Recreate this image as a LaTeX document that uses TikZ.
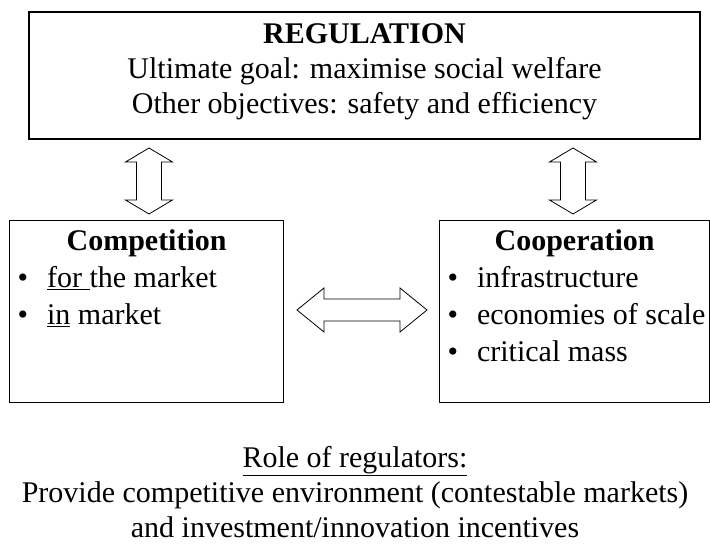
\documentclass[tikz,border=0pt]{standalone}
\usepackage{fontspec}
\setmainfont{Liberation Serif}
\usetikzlibrary{positioning,calc}

\tikzset{
  box/.style={draw, line width=1.2pt, inner sep=0pt},
  blockarrow/.style={draw, line width=0.8pt, fill=white, line join=miter},
  bodyfont/.style={font=\fontsize{30}{35}\selectfont},
}
\newcommand{\bulletline}[1]{\hspace*{8pt}\textbullet\hspace{19pt}#1\par}

\begin{document}
\begin{tikzpicture}[x=1pt,y=-1pt,bodyfont]
  \useasboundingbox (0,0) rectangle (710,545);
  % the three boxes, y measured downwards as in the screenshot
  \node[box, minimum width=671, minimum height=127, text depth=14pt, align=center] (reg) at (364.5,75.5)
     {\textbf{REGULATION}\\Ultimate goal: maximise social welfare\\Other objectives: safety and efficiency};
  \node[box, anchor=north west] (comp) at (9,220) {%
    \begin{minipage}[t][182pt][t]{274pt}
      \fontsize{30}{37}\selectfont
      \vspace*{9pt}
      \centering\textbf{Competition}\par\raggedright
      \bulletline{\underline{for }the market}
      \bulletline{\underline{in} market}
    \end{minipage}};
  \node[box, anchor=north west] (coop) at (439,220) {%
    \begin{minipage}[t][182pt][t]{270pt}
      \fontsize{30}{37}\selectfont
      \vspace*{9pt}
      \centering\textbf{Cooperation}\par\raggedright
      \bulletline{infrastructure}
      \bulletline{economies of scale}
      \bulletline{critical mass}
    \end{minipage}};
  % hollow double arrows between the boxes
  \coordinate (upL) at (149,148);
  \coordinate (upR) at (573,148);
  \foreach \t in {upL,upR}
    \draw[blockarrow] (\t) -- ++(23.5,14) -- ++(-11,0) -- ++(0,38) -- ++(11,0)
      -- ++(-23.5,14) -- ++(-23.5,-14) -- ++(11,0) -- ++(0,-38) -- ++(-11,0) -- cycle;
  \coordinate (mid) at (297,310);
  \draw[blockarrow] (mid) -- ++(27,-22) -- ++(0,11) -- ++(76,0) -- ++(0,-11)
    -- ++(27,22) -- ++(-27,22) -- ++(0,-11) -- ++(-76,0) -- ++(0,11) -- cycle;
  % closing remark
  \node[align=center, inner sep=0pt] (role) at (355,492)
     {\underline{Role of regulators:}\\Provide competitive environment (contestable markets)\\and investment/innovation incentives};
\end{tikzpicture}
\end{document}
